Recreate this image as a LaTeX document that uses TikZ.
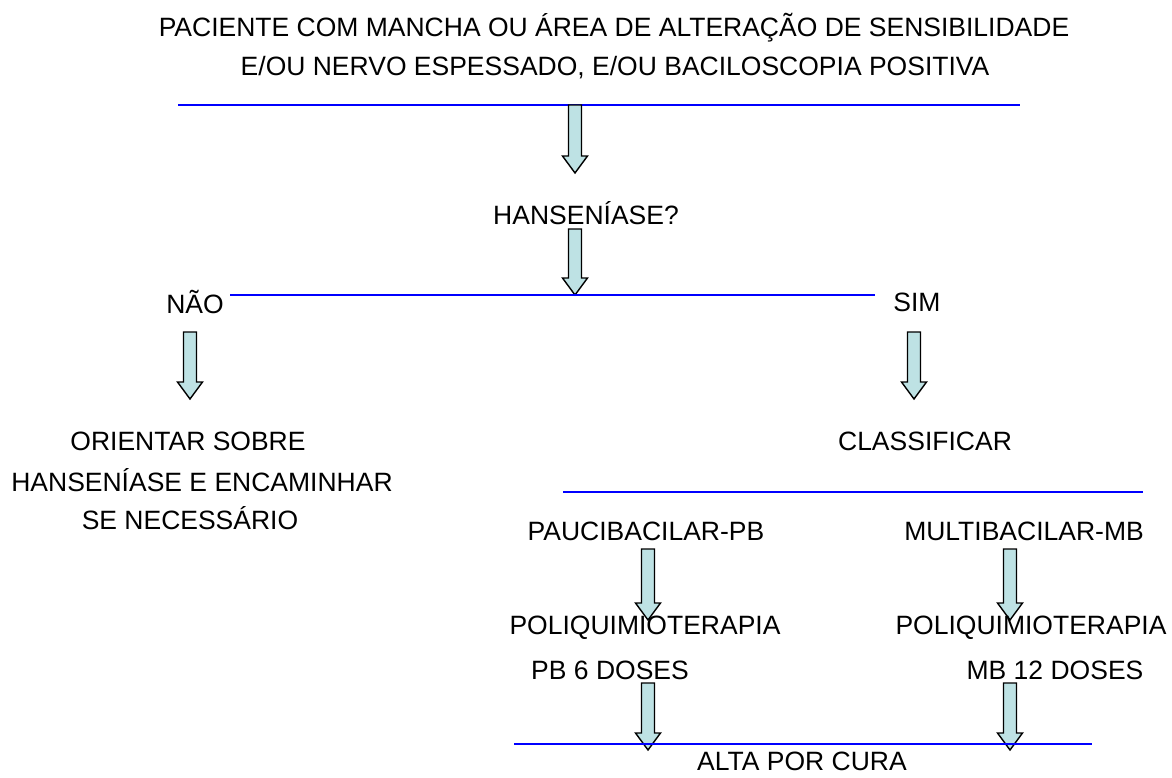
\documentclass[tikz,border=0pt]{standalone}
\usepackage{fontspec}
\setmainfont{Liberation Sans}
\definecolor{arrfill}{RGB}{190,226,228}
\definecolor{lineblue}{RGB}{0,0,255}
\tikzset{
  txt/.style={font=\fontsize{26.5}{30}\selectfont, inner sep=0pt, anchor=center},
  hline/.style={draw=lineblue, line width=1.5pt},
  blockarrow/.style={draw=black, fill=arrfill, line width=1.4pt, line join=miter},
}
% #1 x, #2 top y, #3 tip y
\newcommand{\blkarrow}[3]{%
  \filldraw[blockarrow] (#1-6.5,#2) -- (#1+6.5,#2) -- (#1+6.5,#3-17) -- (#1+12.5,#3-17) -- (#1,#3) -- (#1-12.5,#3-17) -- (#1-6.5,#3-17) -- cycle;}
\begin{document}
\begin{tikzpicture}[x=1pt,y=-1pt]
\useasboundingbox (0,0) rectangle (1172,778);
\node[txt] (t1) at (614,28) {PACIENTE COM MANCHA OU ÁREA DE ALTERAÇÃO DE SENSIBILIDADE};
\node[txt] (t2) at (615,68) {E/OU NERVO ESPESSADO, E/OU BACILOSCOPIA POSITIVA};
\draw[hline] (178,105) coordinate (l1a) -- (1020,105) coordinate (l1b);
\blkarrow{575}{105}{173}
\node[txt] (h) at (586,213) {HANSENÍASE?};
\blkarrow{575}{229}{295}
\node[txt] (nao) at (195,302) {NÃO};
\node[txt] (sim) at (917,302) {SIM};
\draw[hline] (230,295) coordinate (l2a) -- (875,295) coordinate (l2b);
\blkarrow{190}{332}{399}
\blkarrow{914}{332}{399}
\node[txt] (o1) at (188,441) {ORIENTAR SOBRE};
\node[txt] (o2) at (202,480) {HANSENÍASE E ENCAMINHAR};
\node[txt] (o3) at (190,518) {SE NECESSÁRIO};
\node[txt] (cl) at (925,441) {CLASSIFICAR};
\draw[hline] (563,492) coordinate (l3a) -- (1143,492) coordinate (l3b);
\node[txt] (pb) at (646,531) {PAUCIBACILAR-PB};
\node[txt] (mb) at (1024,531) {MULTIBACILAR-MB};
\blkarrow{648}{549}{620}
\blkarrow{1010}{549}{620}
\node[txt] (p1) at (645,628) {POLIQUIMIOTERAPIA};
\node[txt] (p2) at (1031,628) {POLIQUIMIOTERAPIA};
\node[txt] (d1) at (610,670) {PB 6 DOSES};
\node[txt] (d2) at (1055,670) {MB 12 DOSES};
\blkarrow{648}{683}{750}
\blkarrow{1010}{683}{750}
\draw[hline] (514,744) coordinate (l4a) -- (1092,744) coordinate (l4b);
\node[txt] (alta) at (802,761) {ALTA POR CURA};
\end{tikzpicture}
\end{document}
